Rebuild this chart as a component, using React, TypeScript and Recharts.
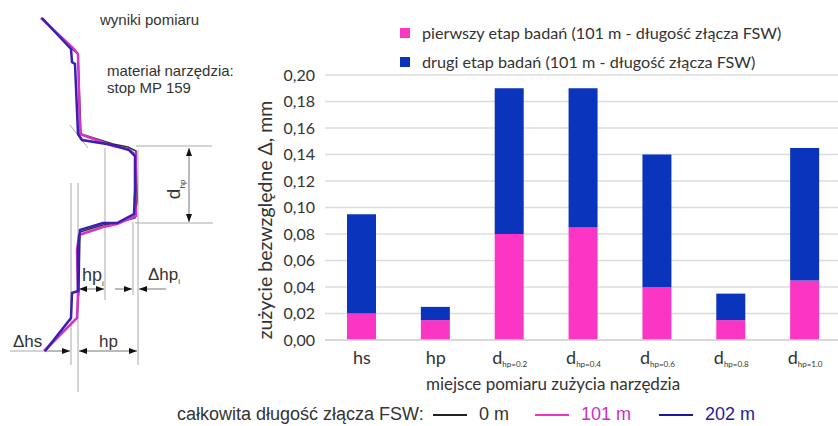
import { BarChart, Bar, XAxis, YAxis, CartesianGrid, Legend, LineChart, Line, ReferenceLine } from "recharts";

const categories = ["hs", "hp", "dhp=0.2", "dhp=0.4", "dhp=0.6", "dhp=0.8", "dhp=1.0"];
const firstStage = [0.02, 0.015, 0.08, 0.085, 0.04, 0.015, 0.045];
const secondStage = [0.075, 0.01, 0.11, 0.105, 0.1, 0.02, 0.1];
const yTicks = [0, 0.02, 0.04, 0.06, 0.08, 0.1, 0.12, 0.14, 0.16, 0.18, 0.2];
const barData = categories.map((name, i) => ({ name, first: firstStage[i], second: secondStage[i] }));

// tool profile
const profile0 = [[41, 18], [72, 49], [78, 54], [81, 134], [113, 144], [128, 147], [136, 151], [137, 200], [135, 218], [117, 223], [103, 225], [80, 232], [79, 290], [77, 318], [45, 351]];
const profile101 = [[41, 18], [73, 48], [78, 54], [80, 134], [113, 146], [128, 149], [136, 155], [135, 200], [136, 216], [117, 224], [103, 227], [79, 235], [77, 250], [78, 292], [77, 318], [44, 351]];
const profile202 = [[42, 18], [71, 49], [72, 62], [75, 64], [78, 134], [82, 140], [113, 145], [129, 150], [135, 156], [135, 190], [134, 214], [117, 223], [103, 223], [80, 230], [78, 250], [78, 291], [72, 293], [71, 318], [45, 351]];
const toPoints = (rows: number[][]) => rows.map(([x, y]) => ({ x, y }));

const helperLines = [
  [136, 146, 212, 146], [135, 223, 213, 223], [71, 183, 71, 365], [78, 183, 78, 392], [105, 148, 105, 300],
  [133, 222, 133, 295], [138, 150, 138, 365], [10, 351, 45, 351], [70, 125, 88, 148],
];
const arrowLines = [
  [189, 185, 189, 148], [189, 185, 189, 222], [92, 289, 79, 289], [92, 289, 104, 289], [115, 289, 132, 289],
  [166, 289, 139, 289], [45, 351, 70, 351], [108, 351, 79, 351], [108, 351, 137, 351],
];

const textBase: React.CSSProperties = { position: "absolute", whiteSpace: "nowrap", lineHeight: 1 };
const sketchText: React.CSSProperties = { ...textBase, fontFamily: "Liberation Sans", color: "#333333" };
const bottomText: React.CSSProperties = { ...textBase, fontFamily: "Liberation Sans", fontSize: 18, top: 405 };

function CategoryTick({ x, y, payload }: any) {
  const v: string = payload.value;
  if (v.length < 3) {
    return <text x={x} y={y + 16} textAnchor="middle" fontSize={18} fill="#333333" fontFamily="Lato">{v}</text>;
  }
  return (
    <text x={x} y={y + 16} textAnchor="middle" fill="#333333" fontFamily="Lato">
      <tspan fontSize={18}>d</tspan>
      <tspan fontSize={8} dy={3}>{v.slice(1)}</tspan>
    </text>
  );
}

function TopLegend({ payload }: any) {
  return (
    <div style={{ fontFamily: "Lato", fontSize: 16.2, color: "#333333" }}>
      {(payload || []).map((p: any) => (
        <div key={p.value} style={{ display: "flex", alignItems: "center", height: 29 }}>
          <span style={{ width: 10, height: 10, background: p.color, marginRight: 12 }} />
          {p.value}
        </div>
      ))}
    </div>
  );
}

function SketchChart() {
  return (
    <LineChart width={240} height={400} margin={{ top: 0, right: 0, bottom: 0, left: 0 }} style={{ position: "absolute", left: 0, top: 0 }}>
      <defs>
        <marker id="head" markerWidth="8" markerHeight="6" refX="8" refY="3" orient="auto" markerUnits="userSpaceOnUse">
          <path d="M0,0 L8,3 L0,6 Z" fill="#111111" />
        </marker>
      </defs>
      <XAxis type="number" dataKey="x" domain={[0, 240]} hide />
      <YAxis type="number" dataKey="y" domain={[0, 400]} reversed hide />
      {helperLines.map(([x1, y1, x2, y2], i) => (
        <ReferenceLine key={i} segment={[{ x: x1, y: y1 }, { x: x2, y: y2 }]} stroke="#aaaaaa" strokeWidth={1} />
      ))}
      {arrowLines.map(([x1, y1, x2, y2], i) => (
        <ReferenceLine key={i} segment={[{ x: x1, y: y1 }, { x: x2, y: y2 }]} stroke="#777777" strokeWidth={1} markerEnd="url(#head)" />
      ))}
      <Line data={toPoints(profile0)} dataKey="y" type="linear" stroke="#333333" strokeWidth={1.5} dot={false} activeDot={false} isAnimationActive={false} />
      <Line data={toPoints(profile101)} dataKey="y" type="linear" stroke="#d633c8" strokeWidth={2.5} dot={false} activeDot={false} isAnimationActive={false} />
      <Line data={toPoints(profile202)} dataKey="y" type="linear" stroke="#3a1fb0" strokeWidth={2.5} dot={false} activeDot={false} isAnimationActive={false} />
    </LineChart>
  );
}

function WearChart() {
  return (
    <BarChart
      width={602}
      height={426}
      data={barData}
      margin={{ top: 75, right: 0, bottom: 26, left: 25 }}
      style={{ position: "absolute", left: 240, top: 0 }}
    >
      <CartesianGrid horizontal vertical={false} stroke="#dcdcdc" strokeWidth={1.5} />
      <XAxis
        dataKey="name"
        height={60}
        interval={0}
        tickLine={false}
        axisLine={{ stroke: "#d4d4d4", strokeWidth: 1.5 }}
        tick={<CategoryTick />}
      />
      <YAxis
        width={60}
        domain={[0, 0.2]}
        ticks={yTicks}
        interval={0}
        tickLine={false}
        axisLine={false}
        tickMargin={4}
        tickFormatter={(v: number) => v.toFixed(2).replace(".", ",")}
        tick={{ fontSize: 16, fill: "#333333", fontFamily: "Lato" }}
      />
      <Legend
        content={<TopLegend />}
        itemSorter={null}
        wrapperStyle={{ position: "absolute", left: 160, top: 18, width: 420, height: 0, bottom: "auto" }}
      />
      <Bar dataKey="first" name="pierwszy etap badań (101 m - długość złącza FSW)" stackId="a" fill="#fb36c4" barSize={29} isAnimationActive={false} />
      <Bar dataKey="second" name="drugi etap badań (101 m - długość złącza FSW)" stackId="a" fill="#0b34bd" barSize={29} isAnimationActive={false} />
    </BarChart>
  );
}

export default function App() {
  return (
    <div style={{ position: "absolute", left: 0, top: 0, width: 838, height: 426, overflow: "hidden", background: "#ffffff" }}>
      <SketchChart />
      <WearChart />
      <div style={{ ...sketchText, left: 100, top: 12, fontSize: 15 }}>wyniki pomiaru</div>
      <div style={{ ...sketchText, left: 107, top: 63, fontSize: 15 }}>materiał narzędzia:</div>
      <div style={{ ...sketchText, left: 107, top: 80, fontSize: 15 }}>stop MP 159</div>
      <div style={{ ...sketchText, left: 166, top: 178, fontSize: 19, transform: "rotate(-90deg)" }}>d<sub style={{ fontSize: 8 }}>hp</sub></div>
      <div style={{ ...sketchText, left: 82, top: 266, fontSize: 18 }}>hp<sub style={{ fontSize: 8 }}>i</sub></div>
      <div style={{ ...sketchText, left: 148, top: 266, fontSize: 17 }}>Δhp<sub style={{ fontSize: 8 }}>i</sub></div>
      <div style={{ ...sketchText, left: 13, top: 333, fontSize: 17 }}>Δhs</div>
      <div style={{ ...sketchText, left: 99, top: 333, fontSize: 17 }}>hp</div>
      <div style={{ ...textBase, left: 265, top: 220, fontFamily: "Lato", fontSize: 19.5, color: "#333333", transform: "translate(-50%,-50%) rotate(-90deg)" }}>zużycie bezwzględne Δ, mm</div>
      <div style={{ ...textBase, left: 553, top: 375, fontFamily: "Lato", fontSize: 17, color: "#333333", transform: "translateX(-50%)" }}>miejsce pomiaru zużycia narzędzia</div>
      <div style={{ ...bottomText, left: 177, color: "#333333" }}>całkowita długość złącza FSW:</div>
      <div style={{ ...bottomText, left: 479, color: "#333333" }}>0 m</div>
      <div style={{ ...bottomText, left: 581, color: "#c832c0" }}>101 m</div>
      <div style={{ ...bottomText, left: 705, color: "#2a1a9a" }}>202 m</div>
      <div style={{ position: "absolute", left: 433, top: 414, width: 34, height: 1.5, background: "#222222" }} />
      <div style={{ position: "absolute", left: 535, top: 414, width: 34, height: 2, background: "#f032c8" }} />
      <div style={{ position: "absolute", left: 659, top: 414, width: 34, height: 2, background: "#1c1a9c" }} />
    </div>
  );
}
